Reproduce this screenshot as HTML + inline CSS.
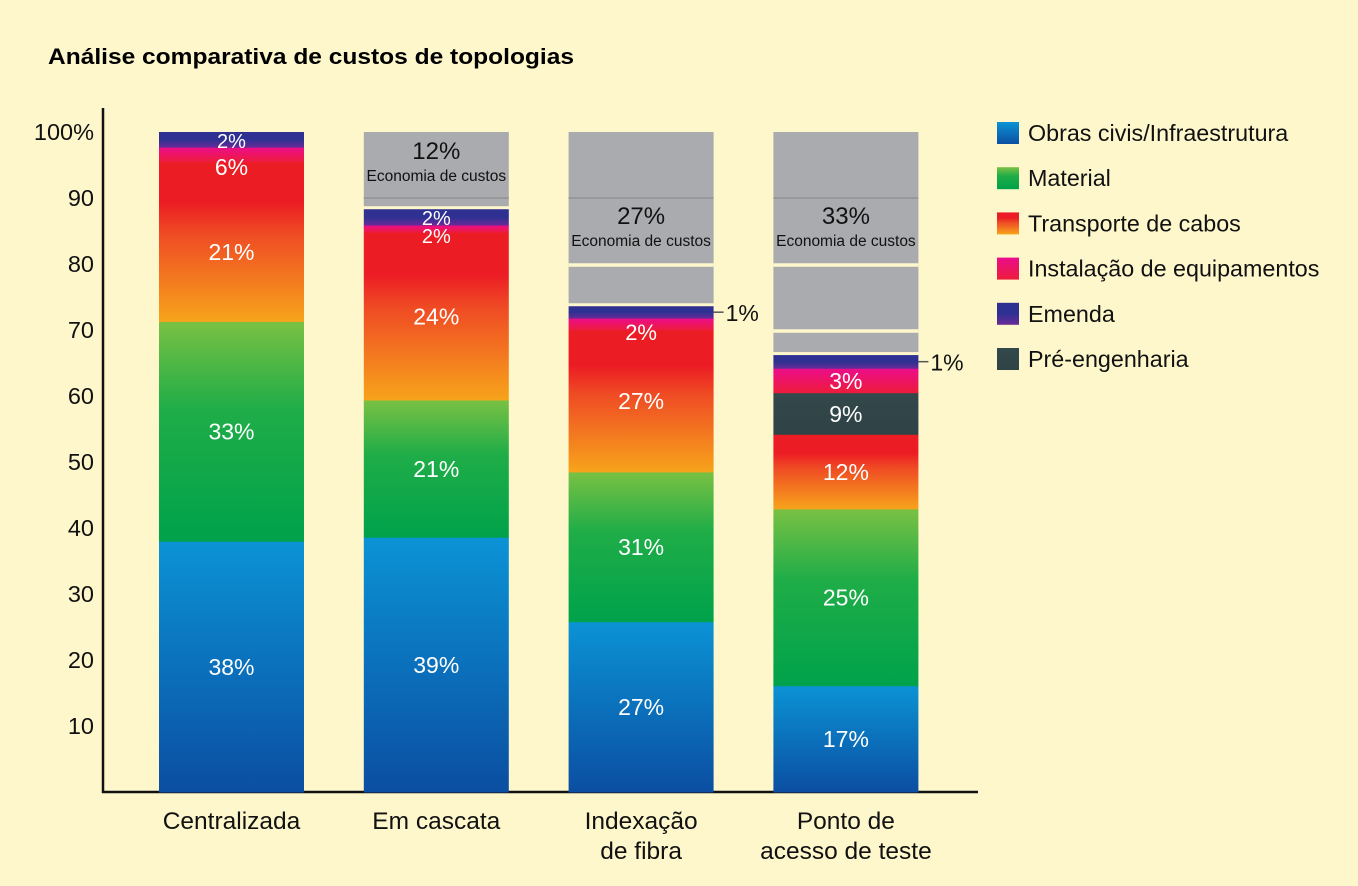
<!DOCTYPE html>
<html><head><meta charset="utf-8">
<style>
html,body{margin:0;padding:0;background:#fdf7cb;}
svg{display:block;font-family:"Liberation Sans",Arial,sans-serif;}
</style></head>
<body>
<svg id="chart" width="1358" height="886" viewBox="0 0 1358 886">
<defs>
<linearGradient id="g0" x1="0" y1="1" x2="0" y2="0"><stop offset="0" stop-color="#0b4ea2"/><stop offset="1" stop-color="#0b93d5"/></linearGradient>
<linearGradient id="g1" x1="0" y1="1" x2="0" y2="0"><stop offset="0" stop-color="#00a24b"/><stop offset="0.6" stop-color="#1fad48"/><stop offset="1" stop-color="#7ac143"/></linearGradient>
<linearGradient id="g2" x1="0" y1="1" x2="0" y2="0"><stop offset="0" stop-color="#f7a41b"/><stop offset="0.55" stop-color="#ef4b24"/><stop offset="0.75" stop-color="#ec1c24"/><stop offset="1" stop-color="#ec1c24"/></linearGradient>
<linearGradient id="g3" x1="0" y1="1" x2="0" y2="0"><stop offset="0" stop-color="#ed1c3a"/><stop offset="1" stop-color="#ec0c8c"/></linearGradient>
<linearGradient id="g4" x1="0" y1="1" x2="0" y2="0"><stop offset="0" stop-color="#6a2a98"/><stop offset="0.5" stop-color="#2e3192"/><stop offset="1" stop-color="#2e3192"/></linearGradient>
<linearGradient id="g5" x1="0" y1="1" x2="0" y2="0"><stop offset="0" stop-color="#2f4346"/><stop offset="1" stop-color="#33484b"/></linearGradient>
</defs>
<text x="48" y="64" font-size="22" font-weight="bold" textLength="526" lengthAdjust="spacingAndGlyphs">Análise comparativa de custos de topologias</text>
<g id="plot"></g>
</svg>
<script>
// data (segment heights in % of axis)
const categories = [["Centralizada"], ["Em cascata"], ["Indexação", "de fibra"], ["Ponto de", "acesso de teste"]];
const civilWorks = [38, 38.6, 25.8, 16.1];
const material = [33.3, 20.8, 22.7, 26.8];
const cableTransport = [24.2, 25.4, 21.5, 11.3];
const preEngineering = [0, 0, 0, 6.3];
const equipmentInstall = [2.2, 1.1, 1.8, 3.7];
const splicing = [2.3, 2.4, 1.8, 2.0];
const civilLabels = ["38%", "39%", "27%", "17%"];
const materialLabels = ["33%", "21%", "31%", "25%"];
const transportLabels = ["21%", "24%", "27%", "12%"];
const preEngLabels = ["", "", "", "9%"];
const installLabels = ["6%", "2%", "2%", "3%"];
const spliceLabels = ["2%", "2%", "1%", "1%"];
const savingsLabels = ["", "12%", "27%", "33%"];
const yTicks = [10, 20, 30, 40, 50, 60, 70, 80, 90, 100];
const yTickLabels = ["10", "20", "30", "40", "50", "60", "70", "80", "90", "100%"];
const legendLabels = ["Obras civis/Infraestrutura", "Material", "Transporte de cabos", "Instalação de equipamentos", "Emenda", "Pré-engenharia"];

const NS = "http://www.w3.org/2000/svg";
const plot = document.getElementById("plot");
const y = v => 792 - v * 6.6;
const barX = i => 159 + i * 204.8;
const BW = 145;
function mk(tag, attrs, parent) {
  const e = document.createElementNS(NS, tag);
  for (const k in attrs) e.setAttribute(k, attrs[k]);
  (parent || plot).appendChild(e);
  return e;
}
let ax = mk("line", {x1: 103, y1: 108, x2: 103, y2: 793, stroke: "#111", "stroke-width": 2.5});


let ax2 = mk("line", {x1: 102, y1: 792, x2: 978, y2: 792, stroke: "#111", "stroke-width": 2.5});


yTicks.forEach((v, i) => {
  const t = mk("text", {x: 94, y: y(v) + 8, "font-size": 23.5, "text-anchor": "end", fill: "#111"});
  t.textContent = yTickLabels[i];
  
  
});
const series = [
  {vals: civilWorks, labels: civilLabels, fill: "url(#g0)", name: "civil-works"},
  {vals: material, labels: materialLabels, fill: "url(#g1)", name: "material"},
  {vals: cableTransport, labels: transportLabels, fill: "url(#g2)", name: "cable-transport"},
  {vals: preEngineering, labels: preEngLabels, fill: "url(#g5)", name: "pre-engineering"},
  {vals: equipmentInstall, labels: installLabels, fill: "url(#g3)", name: "equipment-install"},
  {vals: splicing, labels: spliceLabels, fill: "url(#g4)", name: "splicing"}
];
categories.forEach((cat, i) => {
  const x = barX(i);
  let base = 0;
  const segs = [];
  series.forEach(s => {
    const v = s.vals[i];
    if (v <= 0) return;
    const r = mk("rect", {x: x, y: y(base + v), width: BW, height: v * 6.6 + 0.5, fill: s.fill});
    
    
    segs.push({s, base, v});
    base += v;
  });
  const top = base;
  segs.forEach(({s, base: b, v}) => {
    const lab = s.labels[i];
    if (!lab) return;
    if (s.name === "splicing" && i >= 2) {
      const ly = y(b + v / 2);
      const l = mk("line", {x1: x + BW, y1: ly, x2: x + BW + 10, y2: ly, stroke: "#555", "stroke-width": 1.5});
      
      
      const t = mk("text", {x: x + BW + 12, y: ly + 9, "font-size": 23, fill: "#111"});
      t.textContent = lab;
      
      
      return;
    }
    let fs = v < 3 ? 20 : 23;
    let cy = y(b + v / 2) + fs * 0.36;
    if (s.name === "cable-transport" && i === 0) cy += 10;
    if (s.name === "splicing") cy = y(b + v) + 16;
    if (s.name === "equipment-install" && v < 3) cy = y(b + v) + 18;
    if (s.name === "equipment-install" && i === 0) { cy = y(b + v) + 28; fs = 23; }
    if (s.name === "equipment-install" && i === 2) { cy = y(b + v) + 22; fs = 22; }
    const t = mk("text", {x: x + BW / 2, y: cy, "font-size": fs, "text-anchor": "middle", fill: "#fff"});
    t.textContent = lab;
    
    
  });
  if (savingsLabels[i]) {
    const gTop = y(100), gBot = y(top) - 3;
    const g = mk("rect", {x: x, y: gTop, width: BW, height: gBot - gTop, fill: "#a9abae"});
    
    
    [90, 80, 70].forEach(lv => {
      if (y(lv) < gBot - 4) {
        const ln = mk("line", {x1: x, y1: y(lv) + (lv === 90 ? 0 : 1), x2: x + BW, y2: y(lv) + (lv === 90 ? 0 : 1), stroke: lv === 90 ? "#8f9194" : "#fdf7cb", "stroke-width": lv === 90 ? 1.5 : 3.5});
        
        
      }
    });
    const ty = i === 1 ? 159 : 224;
    const t = mk("text", {x: x + BW / 2, y: ty, "font-size": 24, "text-anchor": "middle", fill: "#111"});
    t.textContent = savingsLabels[i];
    
    
    const t2 = mk("text", {x: x + BW / 2, y: ty + 22, "font-size": 15.5, "text-anchor": "middle", fill: "#111"});
    t2.textContent = "Economia de custos";
    
    
  }
  cat.forEach((line, k) => {
    const t = mk("text", {x: x + BW / 2, y: 829 + k * 30, "font-size": 24.5, "text-anchor": "middle", fill: "#111"});
    t.textContent = line;
    
    
  });
});
const legendFills = ["url(#g0)", "url(#g1)", "url(#g2)", "url(#g3)", "url(#g4)", "url(#g5)"];
legendLabels.forEach((lab, i) => {
  const ly = 122 + i * 45.2;
  const r = mk("rect", {x: 997, y: ly, width: 22, height: 22, fill: legendFills[i]});
  
  
  const t = mk("text", {x: 1028, y: ly + 19, "font-size": 23.3, fill: "#111"});
  t.textContent = lab;
  
  
});
</script>
</body></html>
